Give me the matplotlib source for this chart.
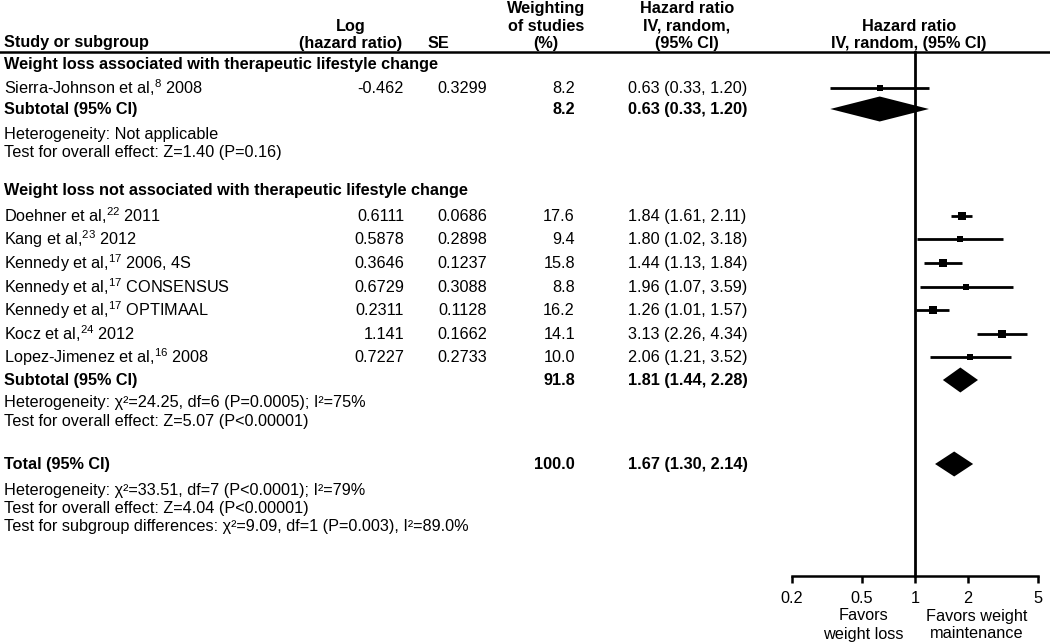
import numpy as np
import matplotlib
matplotlib.use("Agg")
import matplotlib.pyplot as plt

plt.rcParams['font.family'] = ['Liberation Sans', 'DejaVu Sans']
plt.rcParams['mathtext.fontset'] = 'custom'
plt.rcParams['mathtext.rm'] = 'Liberation Sans'
plt.rcParams['mathtext.it'] = 'Liberation Sans:italic'
plt.rcParams['mathtext.bf'] = 'Liberation Sans:bold'

# --- data ---
group1_title = "Weight loss associated with therapeutic lifestyle change"
group2_title = "Weight loss not associated with therapeutic lifestyle change"

g1_studies = ["Sierra-Johnson et al,$^{8}$ 2008"]
g1_loghr = ["-0.462"]
g1_se = ["0.3299"]
g1_weight = [8.2]
g1_hr = [0.63]
g1_lo = [0.33]
g1_hi = [1.20]

g2_studies = ["Doehner et al,$^{22}$ 2011", "Kang et al,$^{23}$ 2012",
              "Kennedy et al,$^{17}$ 2006, 4S", "Kennedy et al,$^{17}$ CONSENSUS",
              "Kennedy et al,$^{17}$ OPTIMAAL", "Kocz et al,$^{24}$ 2012",
              "Lopez-Jimenez et al,$^{16}$ 2008"]
g2_loghr = ["0.6111", "0.5878", "0.3646", "0.6729", "0.2311", "1.141", "0.7227"]
g2_se = ["0.0686", "0.2898", "0.1237", "0.3088", "0.1128", "0.1662", "0.2733"]
g2_weight = [17.6, 9.4, 15.8, 8.8, 16.2, 14.1, 10.0]
g2_hr = [1.84, 1.80, 1.44, 1.96, 1.26, 3.13, 2.06]
g2_lo = [1.61, 1.02, 1.13, 1.07, 1.01, 2.26, 1.21]
g2_hi = [2.11, 3.18, 1.84, 3.59, 1.57, 4.34, 3.52]

sub_weight = [8.2, 91.8]
sub_hr = [0.63, 1.81]
sub_lo = [0.33, 1.44]
sub_hi = [1.20, 2.28]
total_weight = 100.0
total_hr, total_lo, total_hi = 1.67, 1.30, 2.14

g1_notes = ["Heterogeneity: Not applicable",
            "Test for overall effect: Z=1.40 (P=0.16)"]
g2_notes = ["Heterogeneity: χ²=24.25, df=6 (P=0.0005); I²=75%",
            "Test for overall effect: Z=5.07 (P<0.00001)"]
total_notes = ["Heterogeneity: χ²=33.51, df=7 (P<0.0001); I²=79%",
               "Test for overall effect: Z=4.04 (P<0.00001)",
               "Test for subgroup differences: χ²=9.09, df=1 (P=0.003), I²=89.0%"]

xticks = [0.2, 0.5, 1, 2, 5]
xtick_labels = ["0.2", "0.5", "1", "2", "5"]

# --- layout (pixel rows) ---
W, H = 1050, 644
fs = 11.7
y_g1 = 64
y_g1_rows = [88]
y_g1_sub = 109
y_g1_notes = [134, 152]
y_g2 = 190
y_g2_rows = [216, 239, 263, 287, 310, 334, 357]
y_g2_sub = 380
y_g2_notes = [402, 421]
y_total = 464
y_total_notes = [490, 508, 526]
y_axis = 576

x_study, x_log, x_se, x_w, x_hr = 4, 404, 487, 575, 628

fig = plt.figure(figsize=(W / 100, H / 100), dpi=100)
tax = fig.add_axes([0, 0, 1, 1])
tax.set_xlim(0, W)
tax.set_ylim(H, 0)
tax.axis('off')

def txt(x, y, s, ha='left', bold=False):
    tax.text(x, y, s, ha=ha, va='center', fontsize=fs,
             fontweight='bold' if bold else 'normal')

# header
txt(x_study, 42, "Study or subgroup", bold=True)
txt(351, 26, "Log", ha='center', bold=True)
txt(351, 43, "(hazard ratio)", ha='center', bold=True)
txt(438, 43, "SE", ha='center', bold=True)
txt(546, 8, "Weighting", ha='center', bold=True)
txt(546, 26, "of studies", ha='center', bold=True)
txt(546, 43, "(%)", ha='center', bold=True)
txt(687, 8, "Hazard ratio", ha='center', bold=True)
txt(687, 26, "IV, random,", ha='center', bold=True)
txt(687, 43, "(95% CI)", ha='center', bold=True)
txt(909, 26, "Hazard ratio", ha='center', bold=True)
txt(909, 43, "IV, random, (95% CI)", ha='center', bold=True)
tax.plot([0, W], [52, 52], color='black', lw=1.8)

def study_rows(ys, names, logs, ses, ws, hr, lo, hi):
    for y, n, l, s, w, h, a, b in zip(ys, names, logs, ses, ws, hr, lo, hi):
        txt(x_study, y, n)
        txt(x_log, y, l, ha='right')
        txt(x_se, y, s, ha='right')
        txt(x_w, y, f"{w:.1f}", ha='right')
        txt(x_hr, y, f"{h:.2f} ({a:.2f}, {b:.2f})")

txt(x_study, y_g1, group1_title, bold=True)
study_rows(y_g1_rows, g1_studies, g1_loghr, g1_se, g1_weight, g1_hr, g1_lo, g1_hi)
txt(x_study, y_g1_sub, "Subtotal (95% CI)", bold=True)
txt(x_w, y_g1_sub, f"{sub_weight[0]:.1f}", ha='right', bold=True)
txt(x_hr, y_g1_sub, f"{sub_hr[0]:.2f} ({sub_lo[0]:.2f}, {sub_hi[0]:.2f})", bold=True)
for y, s in zip(y_g1_notes, g1_notes):
    txt(x_study, y, s)

txt(x_study, y_g2, group2_title, bold=True)
study_rows(y_g2_rows, g2_studies, g2_loghr, g2_se, g2_weight, g2_hr, g2_lo, g2_hi)
txt(x_study, y_g2_sub, "Subtotal (95% CI)", bold=True)
txt(x_w, y_g2_sub, f"{sub_weight[1]:.1f}", ha='right', bold=True)
txt(x_hr, y_g2_sub, f"{sub_hr[1]:.2f} ({sub_lo[1]:.2f}, {sub_hi[1]:.2f})", bold=True)
for y, s in zip(y_g2_notes, g2_notes):
    txt(x_study, y, s)

txt(x_study, y_total, "Total (95% CI)", bold=True)
txt(x_w, y_total, f"{total_weight:.1f}", ha='right', bold=True)
txt(x_hr, y_total, f"{total_hr:.2f} ({total_lo:.2f}, {total_hi:.2f})", bold=True)
for y, s in zip(y_total_notes, total_notes):
    txt(x_study, y, s)

# --- forest panel ---
fax = fig.add_axes([792 / W, 0, 246 / W, 1])
fax.patch.set_alpha(0)
fax.set_xscale('log')
fax.set_xlim(0.2, 5)
fax.set_ylim(H, 0)
for sp in ['left', 'right', 'top']:
    fax.spines[sp].set_visible(False)
fax.spines['bottom'].set_position(('data', y_axis))
fax.spines['bottom'].set_linewidth(1.8)
fax.set_xticks(xticks)
fax.set_xticklabels(xtick_labels, fontsize=fs)
fax.minorticks_off()
fax.tick_params(axis='x', direction='out', length=5, width=1.8, pad=6)
fax.set_yticks([])

fax.plot([1, 1], [52, y_axis], color='black', lw=2)

def squares(ys, ws, hr, lo, hi):
    for y, w, h, a, b in zip(ys, ws, hr, lo, hi):
        fax.plot([a, b], [y, y], color='black', lw=2, solid_capstyle='butt')
        px = 4 + 0.25 * w
        fax.plot(h, y, marker='s', color='black', ms=px * 0.72, mew=0)

def diamond(y, h, a, b, height=24):
    fax.fill([a, h, b, h], [y, y - height / 2, y, y + height / 2], color='black', lw=0)

squares(y_g1_rows, g1_weight, g1_hr, g1_lo, g1_hi)
squares(y_g2_rows, g2_weight, g2_hr, g2_lo, g2_hi)
diamond(y_g1_sub, sub_hr[0], sub_lo[0], sub_hi[0], 25)
diamond(y_g2_sub, sub_hr[1], sub_lo[1], sub_hi[1], 25)
diamond(y_total, total_hr, total_lo, total_hi, 25)

tax.text(863, 616, "Favors", ha='center', va='center', fontsize=fs)
tax.text(863, 634, "weight loss", ha='center', va='center', fontsize=fs)
tax.text(977, 616, "Favors weight", ha='center', va='center', fontsize=fs)
tax.text(977, 634, "maintenance", ha='center', va='center', fontsize=fs)

fig.savefig("out.png", dpi=100)
